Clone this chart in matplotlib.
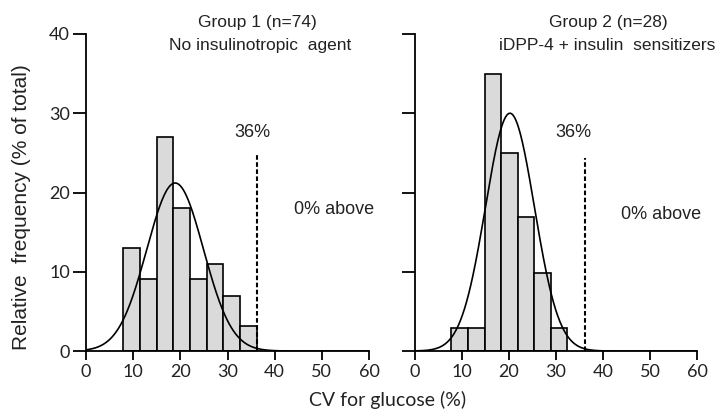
import numpy as np
import matplotlib.pyplot as plt

# histogram bins (left edges + last right edge) and heights
g1_edges = [7.9, 11.4, 15.0, 18.5, 22.0, 25.6, 29.1, 32.6, 36.2]
g1_heights = [13.0, 9.1, 27.0, 18.1, 9.1, 11.0, 7.0, 3.1]
g2_edges = [7.7, 11.2, 14.8, 18.3, 22.0, 25.3, 28.9, 32.4]
g2_heights = [2.9, 2.9, 35.0, 25.0, 16.9, 9.9, 2.9]

# fitted normal curves: mean, sd, peak height
g1_fit = (18.9, 6.0, 21.2)
g2_fit = (20.2, 5.2, 30.0)

cutoff = 36.2
cut_top = [24.7, 24.3]

titles = [("Group 1 (n=74)", "No insulinotropic  agent"),
          ("Group 2 (n=28)", "iDPP-4 + insulin  sensitizers")]
title_x = [(36.3, 37.0), (41.2, 40.8)]
pct_pos = [(35.2, 27.6), (33.7, 27.6)]
above_pos = [(52.6, 17.8), (52.3, 17.2)]

xticks = [0, 10, 20, 30, 40, 50, 60]
yticks = [0, 10, 20, 30, 40]

txt = dict(family='Liberation Sans', color='#222222', ha='center', va='center')

fig = plt.figure(figsize=(7.22, 4.12), dpi=100)
ax1 = fig.add_axes([86/722, 1-351/412, 283/722, 317/412])
ax2 = fig.add_axes([415/722, 1-351/412, 282/722, 317/412])

groups = [(ax1, g1_edges, g1_heights, g1_fit),
          (ax2, g2_edges, g2_heights, g2_fit)]

for i, (ax, edges, heights, fit) in enumerate(groups):
    edges = np.array(edges)
    widths = np.diff(edges)
    ax.bar(edges[:-1], heights, width=widths, align='edge',
           facecolor='#dadada', edgecolor='black', linewidth=1.2, zorder=2)
    mu, sd, peak = fit
    xs = np.linspace(0, 60, 400)
    ax.plot(xs, peak*np.exp(-0.5*((xs-mu)/sd)**2), color='black', lw=1.2, zorder=3)
    ax.plot([cutoff, cutoff], [0, cut_top[i]], color='black', lw=1.5,
            linestyle=(0, (2.2, 1.2)), zorder=3)
    ax.text(pct_pos[i][0], pct_pos[i][1], "36%", fontsize=13, **txt)
    ax.text(above_pos[i][0], above_pos[i][1], "0% above", fontsize=13,
            clip_on=False, **txt)
    ax.text(title_x[i][0], 41.4, titles[i][0], fontsize=12.5, clip_on=False, **txt)
    ax.text(title_x[i][1], 38.6, titles[i][1], fontsize=12.5, clip_on=False, **txt)

    ax.set_xlim(0, 60)
    ax.set_ylim(0, 40)
    ax.set_xticks(xticks)
    ax.set_yticks(yticks)
    for s in ['top', 'right']:
        ax.spines[s].set_visible(False)
    for s in ['left', 'bottom']:
        ax.spines[s].set_linewidth(1.3)
    ax.tick_params(axis='y', length=9.5, width=1.3, pad=2)
    ax.tick_params(axis='x', length=6.5, width=1.3, pad=3)
    for lab in ax.get_xticklabels() + ax.get_yticklabels():
        lab.set_family('Lato')
        lab.set_fontsize(13)
        lab.set_color('#222222')

ax2.set_yticklabels([])

fig.text(22/722, 1-207/412, "Relative  frequency (% of total)", rotation=90,
         fontsize=15, **txt)
fig.text(388/722, 1-400/412, "CV for glucose (%)", fontsize=14,
         family='Lato', color='#222222', ha='center', va='center')

fig.savefig('out.png', dpi=100)
